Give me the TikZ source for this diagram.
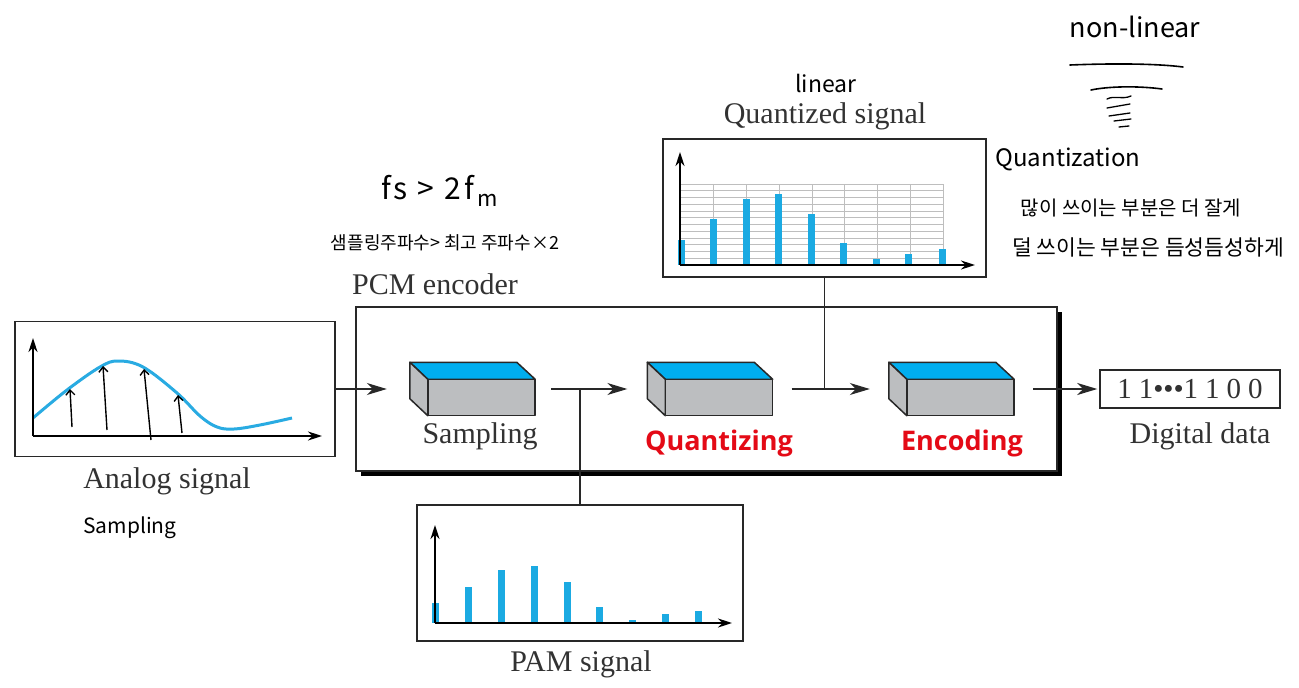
\documentclass[tikz,border=0pt]{standalone}
\usepackage{fontspec}
\setmainfont{Liberation Serif}
\newfontfamily\hand{Noto Sans CJK KR}
\newfontfamily\lblsans{Open Sans}
\usetikzlibrary{arrows.meta,shadows}
\definecolor{txtgray}{RGB}{50,50,50}
\definecolor{edge}{RGB}{40,40,40}
\definecolor{cyantop}{RGB}{0,174,239}
\definecolor{facegray}{RGB}{188,190,192}
\definecolor{barblue}{RGB}{27,170,226}
\definecolor{curveblue}{RGB}{41,171,226}
\definecolor{redlbl}{RGB}{228,10,22}
\definecolor{gridgray}{RGB}{190,190,190}
\tikzset{
  lbl/.style={font=\fontsize{30pt}{32pt}\selectfont, text=txtgray, inner sep=0pt},
  redtxt/.style={font=\lblsans\bfseries\fontsize{27pt}{30pt}\selectfont, text=redlbl, inner sep=0pt},
  hw/.style={font=\hand\fontsize{21pt}{24pt}\selectfont, text=black, inner sep=0pt},
  hwk/.style={font=\hand\fontsize{18pt}{20pt}\selectfont, text=black, inner sep=0pt},
  sbox/.style={draw=edge, line width=1.5pt, fill=white, inner sep=0pt},
  blockbb/.style={minimum width=125pt, minimum height=53pt, inner sep=0pt, draw=none},
  axis/.style={line width=2pt, draw=black, -{Stealth[length=14pt,width=9pt]}},
  conn/.style={line width=1.4pt, draw=edge, -{Stealth[length=20pt,width=12pt,inset=6pt]}},
  hwarrow/.style={line width=1.4pt, -{Straight Barb[length=5pt,width=9pt]}},
  hwline/.style={line width=1.6pt, line cap=round},
  face/.style={draw=edge, line width=1.5pt, line join=round},
}
\newcommand\blk[2]{%
  \node[blockbb] (#1) at (#2,389) {};
  \filldraw[face, fill=cyantop] (#1.north west) -- ++(107,0) -- ([shift={(0,17)}]#1.north east) -- ([shift={(18,17)}]#1.north west) -- cycle;
  \filldraw[face, fill=facegray] (#1.north west) -- ([shift={(18,17)}]#1.north west) -- ([shift={(18,0)}]#1.south west) -- ([shift={(0,-17)}]#1.south west) -- cycle;
  \filldraw[face, fill=facegray] ([shift={(18,17)}]#1.north west) rectangle (#1.south east);
}
\begin{document}
\begin{tikzpicture}[x=1pt,y=-1pt]
\useasboundingbox (0,0) rectangle (1299,688);
\fill[white] (0,0) rectangle (1299,688);

% ---------- handwritten notes, top right ----------
\node[hw, font=\hand\fontsize{27pt}{28pt}\selectfont] (nl) at (1135,27) {non-linear};
\draw[hwline] (1070,65) .. controls (1120,63) and (1160,64) .. (1183,67);
\draw[hwline] (1091,90) .. controls (1110,86) and (1140,86) .. (1162,89);
\draw[line width=1.3pt, line cap=round] (1107,99) .. controls (1115,95) and (1122,100) .. (1131,96);
\draw[line width=1.3pt, line cap=round] (1107,108) -- (1130,104);
\draw[line width=1.3pt, line cap=round] (1109,116) -- (1130,113);
\draw[line width=1.3pt, line cap=round] (1114,121) -- (1131,119);
\draw[line width=1.3pt, line cap=round] (1119,127) -- (1129,126);
\node[hw, font=\hand\fontsize{24pt}{26pt}\selectfont] (qz) at (1068,159) {Quantization};
\node[hwk, font=\hand\fontsize{20pt}{22pt}\selectfont] (k1) at (1131,208) {많이 쓰이는 부분은 더 잘게};
\node[hwk, font=\hand\fontsize{21.5pt}{23pt}\selectfont] (k2) at (1148,247) {덜 쓰이는 부분은 듬성듬성하게};

% ---------- quantized signal ----------
\node[hw, font=\hand\fontsize{23pt}{24pt}\selectfont] (lin) at (826,83) {linear};
\node[lbl] (qtitle) at (825,116) {Quantized signal};
\node[sbox, minimum width=323pt, minimum height=138pt] (qsig) at (824.5,208) {};
\foreach \i in {0,...,12} \draw[gridgray, line width=0.8pt] (680,{184+6.75*\i}) -- (943,{184+6.75*\i});
\foreach \x in {713,746,779,812,844,877,910,943} \draw[gridgray, line width=0.8pt] (\x,184) -- (\x,265);
\foreach \x/\t in {681/240,713/219,746/199,778/194,811/214,843/243,876/259,908/254,942/249}
  \fill[barblue] (\x-3.5,265) rectangle (\x+3.5,\t);
\draw[axis] (680,265) -- (680,152);
\draw[axis] (680,265) -- (975,265);

% ---------- sampling theorem note ----------
\node[hw, font=\hand\fontsize{30pt}{32pt}\selectfont] (fs) at (440,191) {f\kern2pt s\kern10pt >\kern10pt 2\kern4pt f\kern3pt\raisebox{-7pt}{\fontsize{22pt}{22pt}\selectfont m}};
\node[hwk] (fsk) at (445,243) {샘플링주파수> 최고 주파수×2};

% ---------- PCM encoder ----------
\node[lbl] (pcmlbl) at (435,284) {PCM encoder};
\node[sbox, minimum width=701pt, minimum height=164pt,
      drop shadow={shadow xshift=5pt, shadow yshift=-5pt, fill=black, opacity=1}] (pcm) at (706.5,389) {};

\blk{samp}{472.5}
\blk{quant}{710}
\blk{enc}{951.5}
\node[lbl] (samplbl) at (480,436) {Sampling};
\node[redtxt] (quantlbl) at (719,443) {Quantizing};
\node[redtxt] (enclbl) at (962,443) {Encoding};

% ---------- analog signal ----------
\node[sbox, minimum width=320pt, minimum height=135pt] (analog) at (175,389) {};
\draw[curveblue, line width=3pt] plot[smooth, tension=0.6] coordinates {(33,418) (67,390) (100,367) (118,361) (143,367) (177,393) (200,416) (217,427) (234,429) (260,425) (292,418)};
\draw[axis] (33,436) -- (33,338);
\draw[axis] (33,436) -- (322,436);
\draw[hwarrow] (72,427) -- (70,389);
\draw[hwarrow] (107,430) -- (103,366);
\draw[hwarrow] (151,440) -- (144,369);
\draw[hwarrow] (182,433) -- (178,395);
\node[lbl] (alabel) at (167,481) {Analog signal};
\node[hw] (samphw) at (130,528) {Sampling};

% ---------- PAM signal ----------
\node[sbox, minimum width=326pt, minimum height=136pt] (pam) at (580,573) {};
\foreach \x/\t in {435/603,468/587,501/570,534/566,567/582,599/607,632/620,665/614,698/611}
  \fill[barblue] (\x-3.5,623) rectangle (\x+3.5,\t);
\draw[axis] (435,623) -- (435,525);
\draw[axis] (435,623) -- (732,623);
\node[lbl] (pamlbl) at (581,664) {PAM signal};

% ---------- digital data ----------
\node[sbox, minimum width=180pt, minimum height=38pt, font=\fontsize{29pt}{30pt}\selectfont, text=txtgray] (dig) at (1190,389)
  {1\hspace{7pt}1\textbullet\textbullet\textbullet1\hspace{7pt}1\hspace{7pt}0\hspace{7pt}0};
\node[lbl] (diglbl) at (1200,436) {Digital data};

% ---------- connectors ----------
\draw[conn, shorten >=23pt] (analog) -- (samp);
\draw[conn, shorten <=16pt, shorten >=20pt] (samp) -- (quant);
\draw[conn, shorten <=19pt, shorten >=19pt] (quant) -- (enc);
\draw[conn, shorten <=19pt, shorten >=2pt] (enc) -- (dig);
\draw[line width=1.4pt, draw=edge] (pam.north |- samp.east) -- (pam.north);
\draw[line width=1.4pt, draw=edge] (qsig.south) -- (qsig.south |- quant.east);
\end{tikzpicture}
\end{document}
